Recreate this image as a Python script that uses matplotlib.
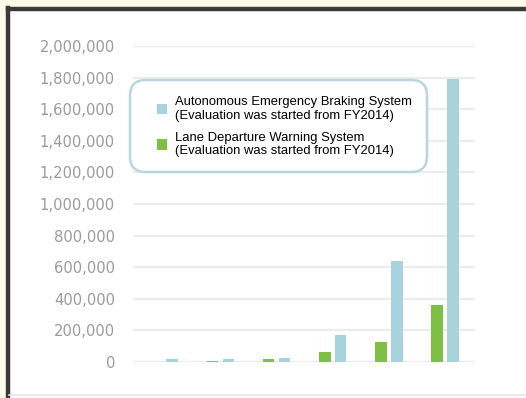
import matplotlib
matplotlib.use("Agg")
import matplotlib.pyplot as plt
from matplotlib.patches import Rectangle, FancyBboxPatch
import numpy as np

# Six fiscal years of shipments (units)
years = ["FY2010", "FY2011", "FY2012", "FY2013", "FY2014", "FY2015"]
ldws = [0, 5000, 18000, 65000, 128000, 360000]
aebs = [20000, 20000, 26000, 170000, 640000, 1790000]
yticks = [0, 200000, 400000, 600000, 800000, 1000000, 1200000,
          1400000, 1600000, 1800000, 2000000]
aebs_label = "Autonomous Emergency Braking System\n(Evaluation was started from FY2014)"
ldws_label = "Lane Departure Warning System\n(Evaluation was started from FY2014)"

W, H = 526, 398
fig = plt.figure(figsize=(W / 100, H / 100), dpi=100)
fig.patch.set_facecolor("#fffbe8")


def fx(px):
    return px / W


def fy(py):
    return 1 - py / H


# white panel with a dark frame along the top and left edges
panel = Rectangle((fx(6), -0.01), 1.0, fy(8) + 0.01, transform=fig.transFigure,
                  facecolor="white", edgecolor="none", zorder=-10)
fig.add_artist(panel)
fig.add_artist(plt.Line2D([fx(7.5), fx(7.5)], [0, fy(8)], transform=fig.transFigure,
                          color="#3a3a3a", lw=3.2, solid_capstyle="projecting", zorder=5))
fig.add_artist(plt.Line2D([fx(7.5), 1.0], [fy(8.5), fy(8.5)], transform=fig.transFigure,
                          color="#3a3a3a", lw=3.2, solid_capstyle="projecting", zorder=5))
fig.add_artist(plt.Line2D([fx(9), 1.0], [fy(395), fy(395)], transform=fig.transFigure,
                          color="#e4e4e4", lw=1.2, zorder=5))

left, right = fx(133), fx(475)
bottom, top = fy(362), fy(46)
ax = fig.add_axes([left, bottom, right - left, top - bottom], zorder=1)
ax.set_facecolor("none")

x = np.arange(len(years))
off, bw = 0.142, 0.21
ax.bar(x - off, ldws, width=bw, color="#7fbf45", label=ldws_label, zorder=3)
ax.bar(x + off, aebs, width=bw, color="#a9d3dc", label=aebs_label, zorder=3)

ax.set_xlim(-0.56, 5.54)
ax.set_ylim(0, 2000000)
ax.set_yticks(yticks)
ax.set_yticklabels([f"{v:,}" for v in yticks], color="#9a9a9a",
                   fontsize=10.6, family="DejaVu Sans")
ax.tick_params(axis="y", length=0, pad=13)
ax.set_xticks([])
ax.grid(axis="y", color="#ececec", lw=1.6, zorder=0)
for s in ax.spines.values():
    s.set_visible(False)

# rounded legend box
box = FancyBboxPatch((fx(130), fy(172)), fx(427) - fx(130), fy(80) - fy(172),
                     boxstyle="round,pad=0,rounding_size=0.03",
                     transform=fig.transFigure, facecolor="white",
                     edgecolor="#b7d6de", lw=1.8, zorder=4, mutation_aspect=W / H)
fig.add_artist(box)

handles, labels = ax.get_legend_handles_labels()
leg = fig.legend(handles[::-1], labels[::-1], loc="upper left",
                 bbox_to_anchor=(fx(157), fy(96)), bbox_transform=fig.transFigure,
                 borderaxespad=0, borderpad=0, frameon=False,
                 prop={"family": "Liberation Sans", "size": 9.4},
                 handlelength=0.78, handleheight=0.85, handletextpad=0.6,
                 labelspacing=0.75)
leg.set_zorder(6)

fig.savefig("out.png", dpi=100, facecolor=fig.get_facecolor())
